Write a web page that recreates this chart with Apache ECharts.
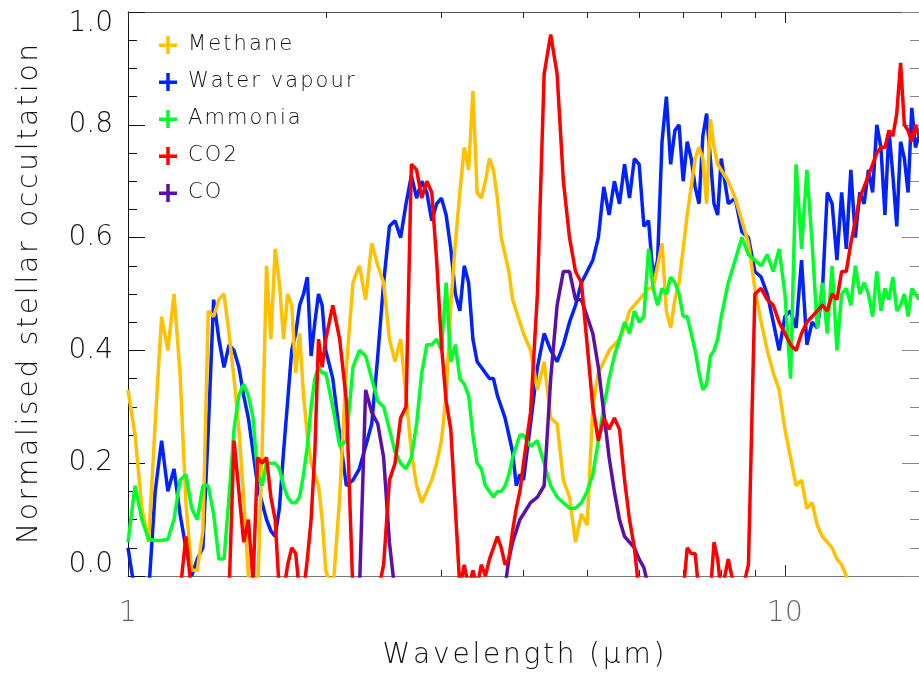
<!DOCTYPE html>
<html><head><meta charset="utf-8">
<script src="https://cdn.jsdelivr.net/npm/echarts@6/dist/echarts.min.js"></script>
<style>html,body{margin:0;padding:0;background:#fff}#c{width:919px;height:675px}</style>
</head><body><div id="c"></div>
<script>
// Wavelength grid (micrometres)
const wavelength = [
 1,1.025,1.05,1.075,1.1,1.125,1.15,1.175,1.2,1.225,1.25,1.275,1.3,1.325,1.35,1.375,1.4,1.425,1.45,1.475,
 1.5,1.525,1.55,1.575,1.6,1.625,1.65,1.675,1.7,1.725,1.75,1.775,1.8,1.825,1.85,1.875,1.9,1.925,1.95,1.975,
 2,2.05,2.1,2.15,2.2,2.25,2.3,2.35,2.4,2.45,2.5,2.55,2.6,2.65,2.7,2.75,2.8,2.85,2.9,2.95,
 3,3.05,3.1,3.15,3.2,3.25,3.3,3.35,3.4,3.45,3.5,3.55,3.6,3.65,3.7,3.75,3.8,3.85,3.9,3.95,
 4,4.1,4.2,4.3,4.4,4.5,4.6,4.7,4.8,4.9,5,5.1,5.2,5.3,5.4,5.5,5.6,5.7,5.8,5.9,
 6,6.1,6.2,6.3,6.4,6.5,6.6,6.7,6.8,6.9,7,7.1,7.2,7.3,7.4,7.5,7.6,7.7,7.8,7.9,
 8,8.2,8.4,8.6,8.8,9,9.2,9.4,9.6,9.8,10,10.2,10.4,10.6,10.8,11,11.2,11.4,11.6,11.8,
 12,12.2,12.4,12.6,12.8,13,13.2,13.4,13.6,13.8,14,14.2,14.4,14.6,14.8,15,15.2,15.4,15.6,15.8,16
];
const methane = [
 0.33,0.25,0.12,0.06,0.27,0.46,0.40,0.50,0.36,0.13, 0.01,0.01,0.08,0.47,0.46,0.49,0.50,0.43,0.35,0.26,
 0.14,0.00,-0.03,-0.03,0.22,0.55,0.42,0.58,0.52,0.42, 0.50,0.48,0.36,0.43,0.32,0.25,0.20,0.18,0.16,0.10,
 0.01,-0.03,0.14,0.37,0.52,0.55,0.49,0.59,0.55,0.52, 0.42,0.38,0.42,0.32,0.22,0.16,0.13,0.15,0.17,0.20,
 0.24,0.32,0.48,0.59,0.68,0.76,0.72,0.86,0.68,0.67, 0.70,0.74,0.72,0.67,0.60,0.57,0.54,0.49,0.47,0.45,
 0.43,0.40,0.33,0.38,0.28,0.27,0.17,0.14,0.06,0.11, 0.09,0.30,0.36,0.38,0.40,0.41,0.42,0.44,0.47,0.48,
 0.49,0.50,0.51,0.51,0.55,0.59,0.47,0.44,0.49,0.52, 0.58,0.64,0.69,0.74,0.76,0.74,0.66,0.81,0.76,0.73,
 0.72,0.70,0.67,0.63,0.59,0.51,0.45,0.40,0.36,0.33, 0.26,0.21,0.16,0.17,0.12,0.13,0.09,0.07,0.06,0.05,
 0.03,0.02,0.00,-0.03,null,null,null,null,null,null, null,null,null,null,null,null,null,null,null,null, null
];
const water = [
 0.05,-0.03,-0.03,-0.03,0.15,0.24,0.15,0.19,0.11,0.05, 0.00,0.03,0.05,0.26,0.49,0.42,0.37,0.41,0.40,0.37,
 0.32,0.28,0.22,0.16,0.13,0.10,0.08,0.07,0.12,0.22, 0.31,0.40,0.43,0.48,0.50,0.53,0.39,0.45,0.50,0.48,
 0.40,0.35,0.25,0.16,0.17,0.19,0.23,0.27,0.39,0.52, 0.62,0.63,0.60,0.66,0.71,0.67,0.70,0.68,0.63,0.66,
 0.67,0.64,0.58,0.50,0.47,0.55,0.52,0.42,0.38,0.37, 0.36,0.35,0.35,0.32,0.30,0.28,0.25,0.22,0.16,0.18,
 0.17,0.27,0.37,0.43,0.40,0.38,0.41,0.45,0.48,0.52, 0.54,0.56,0.60,0.69,0.64,0.70,0.66,0.73,0.67,0.74,
 0.73,0.62,0.63,0.53,0.56,0.77,0.85,0.73,0.79,0.80, 0.70,0.77,0.74,0.69,0.66,0.78,0.82,0.74,0.66,0.64,
 0.74,0.66,0.67,0.61,0.60,0.54,0.53,0.50,0.45,0.40, 0.46,0.47,0.44,0.56,0.41,0.45,0.44,0.50,0.68,0.66,
 0.56,0.68,0.58,0.72,0.60,0.68,0.66,0.72,0.68,0.80, 0.76,0.64,0.79,0.71,0.62,0.77,0.74,0.68,0.83,0.76, 0.78
];
const ammonia = [
 0.06,0.16,0.10,0.065,0.063,0.063,0.065,0.10,0.17,0.18, 0.12,0.10,0.16,0.16,0.11,0.03,0.03,0.14,0.26,0.32,
 0.34,0.32,0.28,0.18,0.16,0.20,0.20,0.20,0.19,0.16, 0.14,0.13,0.13,0.14,0.18,0.23,0.30,0.35,0.37,0.36,
 0.36,0.30,0.23,0.24,0.37,0.40,0.39,0.35,0.31,0.30, 0.26,0.22,0.20,0.19,0.21,0.27,0.36,0.41,0.41,0.42,
 0.40,0.52,0.38,0.41,0.35,0.34,0.32,0.25,0.20,0.19, 0.16,0.15,0.14,0.15,0.15,0.16,0.18,0.21,0.23,0.25,
 0.25,0.23,0.24,0.20,0.16,0.14,0.13,0.12,0.12,0.13, 0.15,0.18,0.24,0.30,0.35,0.39,0.42,0.45,0.43,0.47,
 0.45,0.46,0.58,0.51,0.48,0.51,0.50,0.53,0.52,0.50, 0.46,0.46,0.43,0.40,0.36,0.33,0.34,0.39,0.40,0.42,
 0.46,0.52,0.56,0.60,0.57,0.56,0.55,0.57,0.54,0.58, 0.50,0.35,0.73,0.58,0.72,0.59,0.44,0.52,0.43,0.55,
 0.40,0.50,0.51,0.48,0.55,0.50,0.52,0.50,0.46,0.54, 0.47,0.51,0.49,0.53,0.47,0.48,0.50,0.46,0.51,0.50, 0.49
];
const co2 = [
 -0.03,-0.03,-0.03,-0.03,-0.03,-0.03,-0.03,-0.03,-0.03,0.07, -0.03,-0.03,-0.03,-0.03,-0.03,-0.03,-0.03,-0.03,0.24,0.15,
 0.06,0.10,-0.01,0.21,0.20,0.21,0.14,0.10,-0.03,-0.03, 0.02,0.05,0.04,-0.03,-0.03,0.03,0.10,0.22,0.42,0.37,
 0.42,0.48,0.42,0.31,-0.03,-0.03,-0.03,-0.03,-0.03,0.02, 0.17,0.20,0.28,0.30,0.73,0.72,0.67,0.70,0.68,0.56,
 0.41,0.31,0.26,0.12,-0.02,0.02,-0.02,0.01,-0.02,0.02, 0.00,0.03,0.05,0.07,0.05,0.02,0.03,0.08,0.12,0.15,
 0.20,0.29,0.50,0.89,0.96,0.89,0.70,0.60,0.54,0.52, 0.41,0.30,0.24,0.28,0.26,0.28,0.26,0.17,0.10,0.05,
 -0.03,-0.03,-0.03,-0.03,-0.03,-0.03,-0.03,-0.03,-0.03,-0.03, -0.03,0.05,0.04,0.04,-0.03,-0.03,-0.03,-0.03,0.06,0.03,
 -0.03,0.03,-0.03,-0.03,0.02,0.50,0.51,0.49,0.48,0.45, 0.43,0.41,0.40,0.43,0.45,0.46,0.47,0.48,0.47,0.50,
 0.49,0.54,0.54,0.59,0.63,0.67,0.69,0.71,0.73,0.75, 0.76,0.76,0.79,0.78,0.82,0.91,0.80,0.79,0.77,0.80, 0.78
];
const co = [
 -0.03,-0.03,-0.03,-0.03,-0.03,-0.03,-0.03,-0.03,-0.03,-0.03, -0.03,-0.03,-0.03,-0.03,-0.03,-0.03,-0.03,-0.03,-0.03,-0.03,
 -0.03,-0.03,-0.03,-0.03,-0.03,-0.03,-0.03,-0.03,-0.03,-0.03, -0.03,-0.03,-0.03,-0.03,-0.03,-0.03,-0.03,-0.03,-0.03,-0.03,
 -0.03,-0.03,-0.03,-0.03,-0.03,-0.03,0.33,0.29,0.27,0.21, 0.06,-0.03,-0.03,-0.03,-0.03,-0.03,-0.03,-0.03,-0.03,-0.03,
 -0.03,-0.03,-0.03,-0.03,-0.03,-0.03,-0.03,-0.03,-0.03,-0.03, -0.03,-0.03,-0.03,-0.03,-0.03,-0.02,0.03,0.06,0.08,0.10,
 0.11,0.13,0.14,0.16,0.35,0.48,0.54,0.54,0.49,0.49, 0.46,0.43,0.37,0.29,0.21,0.15,0.10,0.07,0.06,0.05,
 0.03,0.015,-0.02,-0.03,-0.03,-0.03,-0.03,-0.03,-0.03,-0.03, -0.03,-0.03,-0.03,-0.03,-0.03,-0.03,-0.03,-0.03,-0.03,-0.03,
 null,null,null,null,null,null,null,null,null,null, null,null,null,null,null,null,null,null,null,null,
 null,null,null,null,null,null,null,null,null,null, null,null,null,null,null,null,null,null,null,null, null
];
const legendNames = ['Methane','Water vapour','Ammonia','CO2','CO'];
const xMajorTicks = [1, 10];
const xMinorTicks = [2, 3, 4, 5, 6, 7, 8, 9];

const FONT = 'DejaVu Sans';
const FW = 200;
const TXT = '#111';
// widen letter spacing with hair spaces (the reference font is widely tracked)
const spaced = s => s.split('').join('\u200A');
const chart = echarts.init(document.getElementById('c'), null, {renderer: 'canvas'});
const pairs = v => wavelength.map((w, i) => [w, v[i]]);
const seriesDefs = [
  {name: 'Water vapour', data: water, color: '#0022ff'},
  {name: 'Methane', data: methane, color: '#ffc000'},
  {name: 'Ammonia', data: ammonia, color: '#00ff2a'},
  {name: 'CO', data: co, color: '#5a10a8'},
  {name: 'CO2', data: co2, color: '#ff0000'}
];
const xBase = {type: 'log', logBase: 10, min: 1, max: 16, splitLine: {show: false}, axisLabel: {show: false}};
chart.setOption({
  animation: false,
  backgroundColor: '#ffffff',
  grid: {left: 128, top: 12, width: 799, height: 567},
  legend: {
    data: legendNames, orient: 'vertical', left: 154, top: 28, itemGap: 13,
    itemWidth: 18, itemHeight: 18, selectedMode: false,
    icon: 'path://M0,7.5h18v3.5h-18z M7.25,0h3.5v18h-3.5z',
    itemStyle: {borderWidth: 0},
    formatter: name => spaced(name),
    textStyle: {fontSize: 21, color: TXT, fontFamily: FONT, fontWeight: FW, lineHeight: 24, padding: [0, 0, 0, 6]}
  },
  xAxis: [
    Object.assign({}, xBase, {
      position: 'bottom',
      axisLine: {show: true, lineStyle: {color: '#777', width: 1}},
      axisTick: {show: true, inside: true, length: 11, customValues: xMajorTicks, lineStyle: {color: '#222'}},
      axisLabel: {show: true, customValues: xMajorTicks, margin: 24, fontSize: 28, color: '#666', fontFamily: FONT, fontWeight: FW},
      name: spaced('Wavelength (\u03bcm)'), nameLocation: 'middle', nameGap: 66,
      nameTextStyle: {fontSize: 28, color: TXT, fontFamily: FONT, fontWeight: FW}
    }),
    Object.assign({}, xBase, {
      position: 'bottom', axisLine: {show: false},
      axisTick: {show: true, inside: true, length: 6, customValues: xMinorTicks, lineStyle: {color: '#222'}}
    }),
    Object.assign({}, xBase, {
      position: 'top', axisLine: {show: true, lineStyle: {color: '#555'}},
      axisTick: {show: true, inside: true, length: 11, customValues: xMajorTicks, lineStyle: {color: '#222'}}
    }),
    Object.assign({}, xBase, {
      position: 'top', axisLine: {show: false},
      axisTick: {show: true, inside: true, length: 6, customValues: xMinorTicks, lineStyle: {color: '#222'}}
    })
  ],
  yAxis: [
    {
      type: 'value', min: 0, max: 1, interval: 0.2, position: 'left',
      axisLine: {show: true, lineStyle: {color: '#111'}},
      axisTick: {show: true, inside: true, length: 17, lineStyle: {color: '#111'}},
      minorTick: {show: true, splitNumber: 4, length: 9, lineStyle: {color: '#111'}},
      splitLine: {show: false},
      axisLabel: {
        margin: 15, fontSize: 28, color: TXT, fontFamily: FONT, fontWeight: FW,
        formatter: v => Math.abs(v) < 1e-6 ? '{b|0.0}' : Math.abs(v - 1) < 1e-6 ? '{t|1.0}' : v.toFixed(1),
        rich: {
          b: {fontSize: 28, color: TXT, fontFamily: FONT, fontWeight: FW, padding: [0, 0, 22, 0]},
          t: {fontSize: 28, color: TXT, fontFamily: FONT, fontWeight: FW, padding: [24, 0, 0, 0]}
        }
      },
      name: spaced('Normalised stellar occultation'), nameLocation: 'middle', nameGap: 84,
      nameTextStyle: {fontSize: 28, color: TXT, fontFamily: FONT, fontWeight: FW}
    },
    {
      type: 'value', min: 0, max: 1, interval: 0.2, position: 'right',
      axisLine: {show: false},
      axisTick: {show: true, inside: true, length: 17, lineStyle: {color: '#888'}},
      minorTick: {show: true, splitNumber: 4, length: 9, lineStyle: {color: '#888'}},
      splitLine: {show: false}, axisLabel: {show: false}
    }
  ],
  series: seriesDefs.map(s => ({
    name: s.name, type: 'line', data: pairs(s.data), xAxisIndex: 0, yAxisIndex: 0,
    symbol: 'none', showSymbol: false, clip: true, connectNulls: false,
    lineStyle: {color: s.color, width: 3.5}, itemStyle: {color: s.color}
  }))
});
</script></body></html>
